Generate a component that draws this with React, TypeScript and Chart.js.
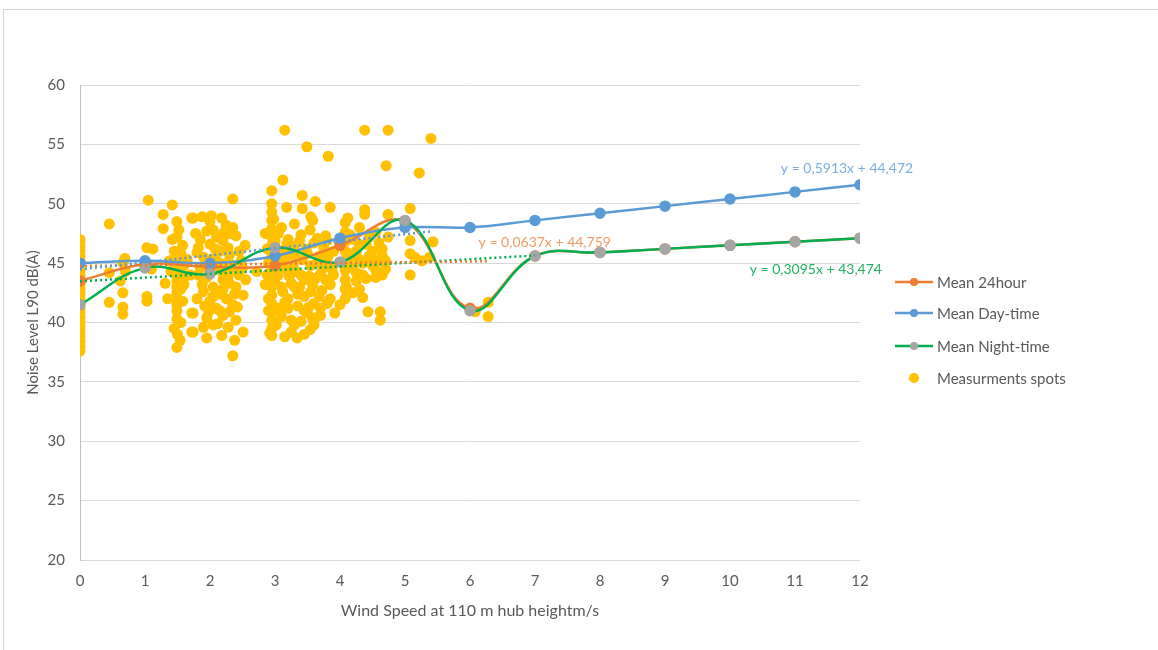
import React, { useEffect, useRef } from "react";
import { Chart, registerables } from "chart.js";

Chart.register(...registerables);

// ---------- data ----------
const windSpeeds = [0, 1, 2, 3, 4, 5, 6, 7, 8, 9, 10, 11, 12];
const mean24hour = [43.5, 44.9, 44.7, 44.8, 46.5, 48.5, 41.2, 45.6, 45.9, 46.2, 46.5, 46.8, 47.1];
const meanDayTime = [45.0, 45.2, 45.0, 45.6, 47.1, 48.0, 48.0, 48.6, 49.2, 49.8, 50.4, 51.0, 51.6];
const meanNightTime = [41.5, 44.6, 44.1, 46.3, 45.1, 48.6, 41.0, 45.6, 45.9, 46.2, 46.5, 46.8, 47.1];

const xTicks = [0, 1, 2, 3, 4, 5, 6, 7, 8, 9, 10, 11, 12];
const yTicks = [20, 25, 30, 35, 40, 45, 50, 55, 60];

// trend lines: [x, y] end points
const trendDay: [number, number][] = [[0, 44.47], [5.4, 47.67]];
const trend24: [number, number][] = [[0, 44.76], [6.3, 45.16]];
const trendNight: [number, number][] = [[0, 43.47], [7.0, 45.64]];

const trendLabelDay = "y = 0,5913x + 44,472";
const trendLabel24 = "y = 0,0637x + 44,759";
const trendLabelNight = "y = 0,3095x + 43,474";

const legendLabels = ["Mean 24hour", "Mean Day-time", "Mean Night-time", "Measurments spots"];

// measurement spots [wind speed, noise level]
const measurementSpots: [number, number][] = [
  // ~0 m/s
  [0, 37.6], [0, 38.0], [0, 38.4], [0, 38.8], [0, 39.2], [0, 39.6], [0, 40.0], [0, 40.4], [0, 40.8],
  [0, 41.2], [0, 41.6], [0, 42.0], [0, 42.4], [0, 42.8], [0, 43.2], [0, 43.6], [0, 44.0], [0, 44.4],
  [0, 44.8], [0, 45.2], [0, 45.6], [0, 46.0], [0, 46.4], [0, 46.8], [0, 47.0],
  // 0.4 - 0.7
  [0.45, 48.3], [0.45, 41.7], [0.45, 44.2], [0.66, 42.5], [0.66, 41.3], [0.66, 40.7], [0.69, 45.4],
  [0.62, 43.5], [0.7, 44.3], [0.66, 45.0],
  // ~1
  [1.03, 46.3], [1.12, 46.2], [1.03, 42.2], [1.03, 41.8], [1.05, 50.3], [1.0, 44.8], [1.1, 44.5],
  // 1.25 - 1.8
  [1.28, 49.1], [1.28, 47.9], [1.31, 43.3], [1.42, 49.9], [1.49, 48.5], [1.49, 47.2], [1.58, 46.5],
  [1.49, 45.5], [1.49, 45.0], [1.49, 44.5], [1.49, 44.0], [1.49, 43.5], [1.49, 43.0], [1.49, 42.5],
  [1.49, 42.0], [1.49, 41.5], [1.49, 41.0], [1.49, 40.3], [1.55, 45.8], [1.6, 44.8], [1.6, 43.8],
  [1.55, 42.8], [1.72, 48.8], [1.72, 40.8], [1.72, 39.2], [1.54, 38.5], [1.49, 37.9], [1.65, 45.3],
  [1.7, 44.0], [1.38, 45.2], [1.4, 44.3], [1.35, 42.0],
  [1.45, 46.0], [1.52, 47.8], [1.45, 39.5], [1.5, 39.0], [1.55, 40.0], [1.42, 47.0], [1.58, 41.8],
  [1.6, 43.2],
  // 1.75 - 2.6
  [1.74, 48.8], [1.88, 48.9], [1.74, 40.8], [1.74, 39.2], [1.95, 40.4], [2.05, 39.8], [1.95, 38.7],
  [2.38, 38.5], [2.51, 39.2], [2.35, 37.2], [2.35, 50.4], [2.35, 48.0], [2.54, 46.5], [2.72, 44.3],
  [2.51, 42.3], [2.0, 48.5], [2.05, 47.8], [2.1, 47.2], [2.0, 46.6], [2.15, 46.0], [2.05, 45.4],
  [2.1, 44.8], [2.0, 44.2], [2.2, 43.6], [2.05, 43.0], [2.15, 42.4], [2.0, 41.8], [2.1, 41.2],
  [2.2, 40.6], [2.25, 48.2], [2.3, 47.5], [2.2, 46.9], [2.3, 45.7], [2.25, 45.0], [2.35, 44.4],
  [2.3, 43.3], [2.25, 42.0], [2.35, 41.5], [2.3, 40.9], [2.4, 40.2], [2.45, 46.0], [2.4, 43.0],
  [2.45, 44.0], [2.48, 45.2], [1.9, 45.5], [1.85, 44.6], [1.95, 43.8], [1.9, 42.6], [1.85, 47.0],
  [1.95, 47.7], [1.82, 46.3], [2.12, 39.9], [1.98, 40.9], [2.18, 48.8],
  [1.78, 47.5], [1.8, 45.9], [1.82, 44.0], [1.88, 43.2], [1.92, 41.4], [1.8, 42.0], [2.02, 49.0],
  [2.08, 46.2], [2.12, 45.1], [2.18, 44.3], [2.05, 42.2], [2.15, 41.0], [2.22, 47.6], [2.28, 46.3],
  [2.32, 44.9], [2.28, 43.9], [2.2, 42.8], [2.38, 42.4], [2.42, 41.3], [2.28, 39.6], [2.4, 47.3],
  [2.5, 44.6], [2.55, 43.6], [2.18, 38.9], [1.9, 39.6],
  // 2.8 - 3.9
  [2.95, 50.0], [2.95, 49.3], [2.95, 48.6], [2.95, 47.9], [2.95, 47.2], [2.95, 46.5], [2.95, 45.8],
  [2.95, 45.1], [2.95, 44.4], [2.95, 43.7], [2.95, 43.0], [2.95, 42.3], [2.95, 41.6], [2.95, 40.9],
  [2.95, 40.2], [2.95, 39.5], [2.95, 38.9],
  [3.15, 56.2], [3.49, 54.8], [3.82, 54.0], [3.12, 52.0], [2.95, 51.1], [3.42, 50.7], [3.62, 50.2],
  [3.18, 49.7], [3.42, 49.6], [3.85, 49.7], [3.58, 48.6], [3.54, 47.8], [3.8, 46.9], [2.92, 39.1],
  [3.34, 38.7], [3.54, 39.4],
  [2.85, 47.5], [2.88, 44.0], [2.9, 42.0], [3.0, 46.8], [3.05, 45.2], [3.0, 43.4], [3.05, 41.2],
  [3.02, 39.8], [3.1, 48.0], [3.1, 44.6], [3.12, 42.6], [3.1, 40.5], [3.2, 47.0], [3.2, 45.8],
  [3.22, 43.9], [3.2, 42.0], [3.25, 40.2], [3.25, 39.2], [3.3, 48.3], [3.3, 46.4], [3.32, 44.3],
  [3.3, 43.0], [3.35, 41.4], [3.4, 40.1], [3.4, 47.4], [3.42, 45.3], [3.45, 43.6], [3.45, 42.2],
  [3.5, 40.8], [3.48, 46.2], [3.55, 44.8], [3.58, 43.2], [3.6, 41.6], [3.62, 40.4], [3.65, 47.1],
  [3.68, 45.6], [3.7, 44.1], [3.72, 42.7], [3.7, 41.2], [3.75, 46.3], [3.78, 43.6], [3.8, 45.0],
  [3.85, 42.0], [3.88, 44.5], [3.9, 46.0], [3.92, 40.8], [3.15, 38.8], [3.45, 39.0], [3.6, 39.8],
  [2.98, 48.7], [3.55, 48.9],
  [2.88, 46.2], [2.9, 45.0], [2.85, 43.2], [2.9, 41.0], [3.05, 47.5], [3.08, 46.0], [3.05, 44.0],
  [3.1, 43.0], [3.15, 41.7], [3.08, 40.9], [3.18, 46.6], [3.15, 45.2], [3.18, 44.5], [3.25, 43.3],
  [3.2, 41.2], [3.3, 45.6], [3.28, 44.8], [3.35, 42.4], [3.3, 39.8], [3.38, 46.9], [3.4, 44.0],
  [3.38, 43.0], [3.45, 41.0], [3.5, 45.8], [3.52, 43.9], [3.55, 42.6], [3.52, 41.3], [3.58, 40.3],
  [3.6, 46.7], [3.65, 45.0], [3.62, 43.7], [3.68, 42.2], [3.7, 40.6], [3.75, 44.6], [3.78, 47.3],
  [3.82, 45.6], [3.85, 43.2], [3.8, 41.6], [3.9, 44.0],
  // 4 - 4.8
  [4.38, 56.2], [4.74, 56.2], [4.71, 53.2], [4.38, 49.5], [4.38, 49.1], [4.74, 49.1], [4.74, 47.2],
  [4.08, 48.4], [4.08, 47.6], [4.08, 46.8], [4.08, 46.0], [4.08, 45.2], [4.08, 44.4], [4.08, 43.6],
  [4.08, 42.8], [4.08, 42.0], [4.2, 47.0], [4.25, 46.0], [4.3, 45.3], [4.2, 44.6], [4.35, 44.0],
  [4.25, 43.5], [4.4, 46.6], [4.45, 45.6], [4.5, 44.8], [4.55, 43.8], [4.6, 45.2], [4.65, 46.2],
  [4.55, 47.6], [4.35, 42.1], [4.43, 40.9], [4.62, 40.9], [4.62, 40.2], [4.7, 44.5], [4.3, 48.0],
  [4.15, 45.8], [4.5, 46.0], [4.65, 44.0], [4.1, 43.0], [4.0, 41.5],
  [4.15, 47.4], [4.2, 45.5], [4.25, 44.2], [4.3, 46.6], [4.35, 45.0], [4.4, 43.7], [4.45, 47.2],
  [4.5, 45.3], [4.55, 44.4], [4.6, 46.7], [4.65, 45.6], [4.2, 42.5], [4.3, 42.8], [4.7, 45.2],
  [4.12, 48.8],
  // 5 - 5.5
  [5.4, 55.5], [5.22, 52.6], [5.08, 49.6], [5.08, 46.9], [5.43, 46.8], [5.08, 45.8], [5.15, 45.5],
  [5.38, 45.5], [5.26, 45.2], [5.08, 44.0],
  // ~6
  [6.08, 40.9], [6.28, 41.7], [6.28, 40.5],
];

// ---------- styles ----------
const FONT = "Lato, 'Open Sans', sans-serif";
const TEXT = "#595959";
const ORANGE = "#ed7d31";
const BLUE = "#5b9bd5";
const GREEN = "#00b050";
const GRAY = "#a5a5a5";
const YELLOW = "#ffc000";

const trendLabelPos = [
  { text: trendLabelDay, x: 11.8, y: 53.0, color: "#7aaee0" },
  { text: trendLabel24, x: 7.15, y: 46.7, color: "#f19a63" },
  { text: trendLabelNight, x: 11.32, y: 44.5, color: "#21b35e" },
];

const overlayPlugin = {
  id: "overlay",
  afterDatasetsDraw(chart: any) {
    const { ctx, chartArea } = chart;
    const x = chart.scales.x;
    const y = chart.scales.y;
    ctx.save();
    ctx.font = `14px ${FONT}`;
    ctx.textAlign = "center";
    ctx.textBaseline = "middle";
    trendLabelPos.forEach((l) => {
      ctx.fillStyle = l.color;
      ctx.fillText(l.text, x.getPixelForValue(l.x), y.getPixelForValue(l.y));
    });

    // legend
    const lx = chartArea.right + 35;
    const rows = [282, 313, 346, 378];
    const lineColors = [ORANGE, BLUE, GREEN, null];
    const markerColors = [ORANGE, BLUE, GRAY, YELLOW];
    ctx.font = `15px ${FONT}`;
    ctx.textAlign = "left";
    rows.forEach((ry, i) => {
      const lc = lineColors[i];
      if (lc) {
        ctx.strokeStyle = lc;
        ctx.lineWidth = 2.5;
        ctx.beginPath();
        ctx.moveTo(lx, ry);
        ctx.lineTo(lx + 38, ry);
        ctx.stroke();
      }
      ctx.fillStyle = markerColors[i];
      ctx.beginPath();
      ctx.arc(lx + 19, ry, lc ? 4 : 5, 0, Math.PI * 2);
      ctx.fill();
      ctx.fillStyle = TEXT;
      ctx.fillText(legendLabels[i], lx + 42, ry + 1);
    });
    ctx.restore();
  },
};

function toPoints(xs: number[], ys: number[]) {
  return xs.map((v, i) => ({ x: v, y: ys[i] }));
}

export default function App() {
  const canvasRef = useRef<HTMLCanvasElement | null>(null);

  useEffect(() => {
    if (!canvasRef.current) return;
    const lineCommon = {
      type: "line" as const,
      borderWidth: 2.5,
      pointRadius: 4.5,
      pointHoverRadius: 4.5,
      tension: 0.4,
      fill: false,
    };
    const trendCommon = {
      type: "line" as const,
      borderWidth: 2.5,
      borderDash: [2, 3],
      pointRadius: 0,
      tension: 0,
      fill: false,
    };
    const chart = new Chart(canvasRef.current, {
      type: "scatter",
      data: {
        datasets: [
          {
            ...trendCommon,
            label: "trend day",
            data: trendDay.map(([a, b]) => ({ x: a, y: b })),
            borderColor: BLUE,
            order: 0,
          },
          {
            ...trendCommon,
            label: "trend 24",
            data: trend24.map(([a, b]) => ({ x: a, y: b })),
            borderColor: ORANGE,
            order: 0,
          },
          {
            ...trendCommon,
            label: "trend night",
            data: trendNight.map(([a, b]) => ({ x: a, y: b })),
            borderColor: GREEN,
            order: 0,
          },
          {
            ...lineCommon,
            label: legendLabels[2],
            data: toPoints(windSpeeds, meanNightTime),
            borderColor: GREEN,
            pointBackgroundColor: GRAY,
            pointBorderColor: GRAY,
            order: 1,
          },
          {
            ...lineCommon,
            label: legendLabels[1],
            data: toPoints(windSpeeds, meanDayTime),
            borderColor: BLUE,
            pointBackgroundColor: BLUE,
            pointBorderColor: BLUE,
            order: 2,
          },
          {
            ...lineCommon,
            label: legendLabels[0],
            data: toPoints(windSpeeds, mean24hour),
            borderColor: ORANGE,
            pointBackgroundColor: ORANGE,
            pointBorderColor: ORANGE,
            order: 3,
          },
          {
            type: "scatter" as const,
            label: legendLabels[3],
            data: measurementSpots.map(([a, b]) => ({ x: a, y: b })),
            backgroundColor: YELLOW,
            borderColor: YELLOW,
            borderWidth: 0,
            pointRadius: 5.5,
            pointHoverRadius: 5.5,
            order: 4,
          },
        ] as any,
      },
      options: {
        responsive: false,
        animation: false,
        events: [],
        layout: { padding: { top: 85, right: 298, bottom: 0, left: 0 } },
        plugins: {
          legend: { display: false },
          tooltip: { enabled: false },
          title: { display: false },
        },
        scales: {
          x: {
            type: "linear",
            min: 0,
            max: 12,
            afterFit: (s: any) => {
              s.height = 90;
            },
            afterBuildTicks: (s: any) => {
              s.ticks = xTicks.map((v) => ({ value: v }));
            },
            ticks: {
              stepSize: 1,
              padding: 12,
              color: TEXT,
              font: { family: FONT, size: 15 },
            },
            grid: { display: false, drawTicks: false },
            border: { display: false },
            title: {
              display: true,
              text: "Wind Speed at 110 m hub heightm/s",
              color: TEXT,
              font: { family: FONT, size: 16 },
              padding: { top: 0, bottom: 30 },
            },
          },
          y: {
            type: "linear",
            min: 20,
            max: 60,
            afterFit: (s: any) => {
              s.width = 80;
            },
            afterBuildTicks: (s: any) => {
              s.ticks = yTicks.map((v) => ({ value: v }));
            },
            ticks: {
              stepSize: 5,
              padding: 15,
              color: TEXT,
              font: { family: FONT, size: 15 },
            },
            grid: { color: "#d9d9d9", lineWidth: 1, drawTicks: false },
            border: { display: true, color: "#bfbfbf", width: 1 },
            title: {
              display: true,
              text: "Noise Level L90 dB(A)",
              color: TEXT,
              font: { family: FONT, size: 15 },
              padding: { top: 24, bottom: 0 },
            },
          },
        },
      } as any,
      plugins: [overlayPlugin],
    });
    return () => chart.destroy();
  }, []);

  return (
    <div style={{ position: "fixed", left: 0, top: 0, width: 1158, height: 650, background: "#fff", overflow: "hidden" }}>
      <div
        style={{
          position: "absolute",
          left: 3,
          top: 9,
          width: 1170,
          height: 660,
          borderTop: "1px solid #d4d4d4",
          borderLeft: "1px solid #d4d4d4",
        }}
      />
      <canvas ref={canvasRef} width={1158} height={650} style={{ position: "absolute", left: 0, top: 0 }} />
    </div>
  );
}
